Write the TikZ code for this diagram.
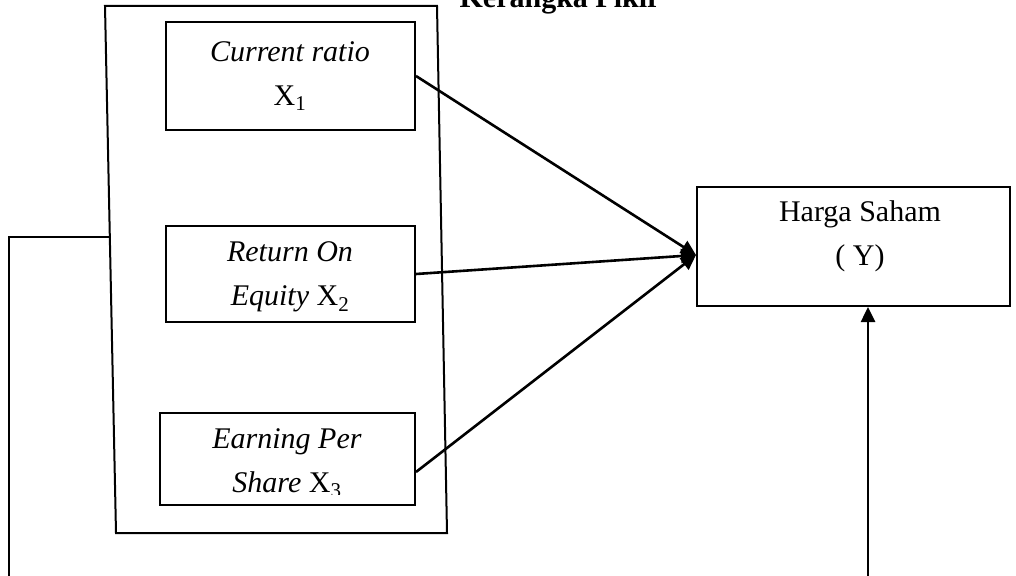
\documentclass[tikz,border=0pt]{standalone}
\usepackage{fontspec}
\setmainfont{Liberation Serif}
\usetikzlibrary{arrows.meta}
\begin{document}
\begin{tikzpicture}[x=1pt,y=-1pt,
  frame/.style={draw=black,line width=2pt},
  varbox/.style={draw=black,line width=2pt,inner sep=0pt},
  lbl/.style={font=\fontsize{30}{44}\selectfont,align=center,inner sep=0pt},
  link/.style={line width=2.6pt,-{Triangle[length=15pt,width=14pt]}},
  plain/.style={line width=2pt}
]
\useasboundingbox (0,0) rectangle (1016,575);
\clip (0,0) rectangle (1016,575);

% heading, cut by the top of the page
\node[lbl,font=\fontsize{30}{44}\selectfont\bfseries,anchor=base] (title) at (560,8) {Kerangka Pikir};

% panel grouping the independent variables
\draw[frame] (105,6) -- (437,6) -- (447,533) -- (116,533) -- cycle;
\coordinate (pl) at (108.5,237);
\coordinate (bend) at (9,237);
\coordinate (lend) at (9,576);

% independent variables
\node[varbox,minimum width=249pt,minimum height=108pt] (b1) at (290.5,76) {};
\node[varbox,minimum width=249pt,minimum height=96pt] (b2) at (290.5,274) {};
\node[varbox,minimum width=255pt,minimum height=92pt] (b3) at (287.5,459) {};

\node[lbl] (t1) at (290,76) {\textit{Current ratio}\\X\textsubscript{1}};
\begin{scope}
  \clip (168,228) rectangle (413,311);
  \node[lbl] (t2) at (290,277) {\textit{Return On}\\\textit{Equity} X\textsubscript{2}};
\end{scope}
\begin{scope}
  \clip (162,415) rectangle (413,494);
  \node[lbl] (t3) at (287,463) {\textit{Earning Per}\\\textit{Share} X\textsubscript{3}};
\end{scope}

% dependent variable
\node[varbox,minimum width=313pt,minimum height=119pt] (hs) at (853.5,246.5) {};
\node[lbl] (ty) at (860,236) {Harga Saham\\( Y)};

% connectors
\draw[plain] (pl) -- (bend) -- (lend);
\draw[link] (b1.east) -- ([yshift=-8.5pt]hs.west);
\draw[link] (b2.east) -- ([yshift=-8.5pt]hs.west);
\draw[link] ([yshift=-13pt]b3.east) -- ([yshift=-8.5pt]hs.west);
\coordinate (ysrc) at (868,576);
\draw[link] (ysrc) -- (ysrc |- hs.south);
\end{tikzpicture}
\end{document}
